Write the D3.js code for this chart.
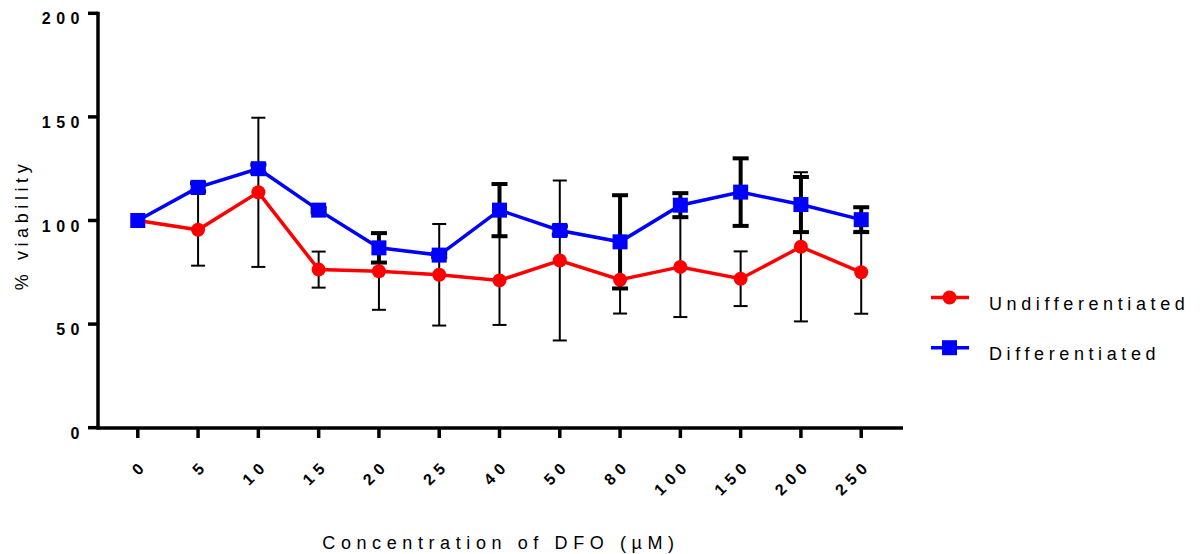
<!DOCTYPE html>
<style>
    body { margin: 0; background: #fff; }
    text { font-family: "Liberation Sans", Arial, sans-serif; fill: #000; }
    .tick-label { font-size: 16px; font-weight: bold; letter-spacing: 5.5px; }
    .title { font-size: 18px; letter-spacing: 4.6px; }
</style>
<body>
<script src="https://cdnjs.cloudflare.com/ajax/libs/d3/7.8.5/d3.min.js"></script>
<script>
// concentrations of DFO (uM) - categorical axis
var doses = ["0", "5", "10", "15", "20", "25", "40", "50", "80", "100", "150", "200", "250"];
var undiffMean = [100, 95.5, 113.6, 76.3, 75.5, 73.8, 71.1, 80.7, 71.4, 77.6, 71.9, 87.3, 75.0];
var undiffSD   = [0, 17.3, 36.0, 8.7, 18.6, 24.5, 21.5, 38.6, 16.3, 24.2, 13.2, 36.0, 20.0];
var diffMean   = [100, 116.0, 125.0, 105.0, 86.8, 83.3, 105.0, 95.2, 89.7, 107.4, 113.7, 107.7, 100.4];
var diffSD     = [0, 2, 2, 1, 7.1, 1, 12.6, 2, 22.5, 5.8, 16.3, 13.3, 6.0];
var yTicks = [0, 50, 100, 150, 200];

var width = 1203, height = 554;

var svg = d3.select("body").append("svg")
    .attr("width", width)
    .attr("height", height);

var x = d3.scalePoint().domain(doses).range([98, 901]).padding(0.66);
var y = d3.scaleLinear().domain([0, 200]).range([427.7, 13.3]);

// axes
svg.append("line")
    .attr("x1", 98).attr("x2", 98)
    .attr("y1", y(200) - 1.5).attr("y2", y(0) + 1.5)
    .attr("stroke", "#000").attr("stroke-width", 3.5);
svg.append("line")
    .attr("x1", 96.5).attr("x2", 903)
    .attr("y1", 428).attr("y2", 428)
    .attr("stroke", "#000").attr("stroke-width", 3.5);

yTicks.forEach(function(t) {
    svg.append("line")
        .attr("x1", 88).attr("x2", 98)
        .attr("y1", y(t)).attr("y2", y(t))
        .attr("stroke", "#000").attr("stroke-width", 3.5);
    svg.append("text").attr("class", "tick-label")
        .attr("x", 85).attr("y", y(t) + 11)
        .attr("text-anchor", "end")
        .text(t);
});

doses.forEach(function(d) {
    svg.append("line")
        .attr("x1", x(d)).attr("x2", x(d))
        .attr("y1", 428).attr("y2", 438)
        .attr("stroke", "#000").attr("stroke-width", 3.5);
    svg.append("text").attr("class", "tick-label")
        .attr("text-anchor", "end")
        .attr("transform", "translate(" + (x(d) + 11) + ",466) rotate(-45)")
        .text(d);
});

// axis titles
svg.append("text").attr("class", "title")
    .attr("text-anchor", "middle")
    .attr("transform", "translate(28,225) rotate(-90)")
    .text("% viability");
svg.append("text").attr("class", "title")
    .attr("x", 501).attr("y", 549)
    .attr("text-anchor", "middle")
    .style("letter-spacing", "5.6px")
    .text("Concentration of DFO (\u00b5M)");

// error bars
function errorBars(means, sds, lw, cap) {
    var g = svg.append("g").attr("stroke", "#000").attr("stroke-width", lw);
    doses.forEach(function(d, i) {
        if (!sds[i]) return;
        var cx = x(d), top = y(means[i] + sds[i]), bot = y(means[i] - sds[i]);
        g.append("line").attr("x1", cx).attr("x2", cx).attr("y1", top).attr("y2", bot);
        g.append("line").attr("x1", cx - cap / 2).attr("x2", cx + cap / 2).attr("y1", top).attr("y2", top);
        g.append("line").attr("x1", cx - cap / 2).attr("x2", cx + cap / 2).attr("y1", bot).attr("y2", bot);
    });
}
errorBars(undiffMean, undiffSD, 2, 14);
errorBars(diffMean, diffSD, 4, 16);

var line = d3.line()
    .x(function(d, i) { return x(doses[i]); })
    .y(function(d) { return y(d); });

// undifferentiated
svg.append("path").datum(undiffMean)
    .attr("d", line)
    .attr("fill", "none").attr("stroke", "#ff0000").attr("stroke-width", 3.5);
svg.selectAll(".dot").data(undiffMean).enter().append("circle")
    .attr("class", "dot")
    .attr("cx", function(d, i) { return x(doses[i]); })
    .attr("cy", function(d) { return y(d); })
    .attr("r", 7)
    .attr("fill", "#ff0000");

// differentiated
svg.append("path").datum(diffMean)
    .attr("d", line)
    .attr("fill", "none").attr("stroke", "#0000ff").attr("stroke-width", 3.5);
svg.selectAll(".sq").data(diffMean).enter().append("rect")
    .attr("class", "sq")
    .attr("x", function(d, i) { return x(doses[i]) - 7.5; })
    .attr("y", function(d) { return y(d) - 7.5; })
    .attr("width", 15).attr("height", 15)
    .attr("fill", "#0000ff");

// legend
var legend = [
    {name: "Undifferentiated", color: "#ff0000", shape: "circle", y: 297.5},
    {name: "Differentiated", color: "#0000ff", shape: "square", y: 347.7}
];
legend.forEach(function(l) {
    svg.append("line")
        .attr("x1", 931).attr("x2", 969)
        .attr("y1", l.y).attr("y2", l.y)
        .attr("stroke", l.color).attr("stroke-width", 3.5);
    if (l.shape === "circle") {
        svg.append("circle").attr("cx", 949.5).attr("cy", l.y).attr("r", 7).attr("fill", l.color);
    } else {
        svg.append("rect").attr("x", 942).attr("y", l.y - 7.5)
            .attr("width", 15).attr("height", 15).attr("fill", l.color);
    }
    svg.append("text").attr("class", "title")
        .attr("x", 989).attr("y", l.y + 12.5)
        .text(l.name);
});
</script>
</body>
